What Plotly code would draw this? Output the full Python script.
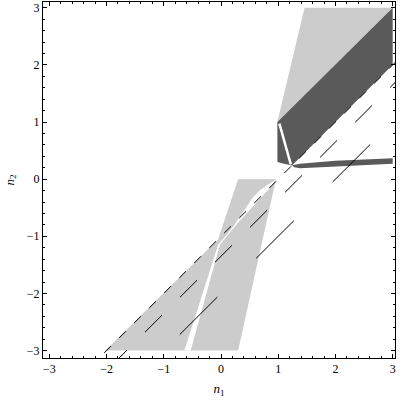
import plotly.graph_objects as go

# regions (n1, n2 vertices)
light_up_n1 = [0.985, 1.46, 3.0]
light_up_n2 = [1.0, 3.0, 3.0]

dark_n1 = [0.985, 3.0, 3.0, 1.24, 1.10, 0.985]
dark_n2 = [1.0, 3.0, 2.0, 0.24, 0.27, 0.30]

band_n1 = [1.24, 1.38, 2.0, 3.0, 3.0, 2.0, 1.38, 1.28]
band_n2 = [0.245, 0.27, 0.32, 0.365, 0.27, 0.225, 0.19, 0.21]

gap_up_n1 = [1.02, 1.06, 1.10, 1.15, 1.19, 1.22]
gap_up_n2 = [0.97, 0.83, 0.65, 0.48, 0.33, 0.26]

light_lo_n1 = [-2.02, -0.05, 0.30, 0.96, 0.30]
light_lo_n2 = [-3.0, -1.05, 0.0, 0.0, -3.0]

gap_lo_n1 = [0.96, 0.82, 0.67, 0.55, 0.45, 0.35, 0.22, 0.08, -0.05, -0.64,
             -0.53, -0.02, 0.12, 0.30, 0.50, 0.70, 0.85, 0.96]
gap_lo_n2 = [0.0, -0.09, -0.20, -0.33, -0.48, -0.64, -0.82, -1.0, -1.15, -3.0,
             -3.0, -1.15, -0.98, -0.76, -0.54, -0.33, -0.16, 0.0]

# dashed lines n2 = n1 - c
line_n1 = [[-2.04, 3.1], [-1.94, 3.1], [-0.72, 3.1]]
line_n2 = [[-3.04, 2.1], [-3.29, 1.75], [-2.72, 1.1]]
line_dash = ["9.5px,11.7px", "24px,25.5px", "53px,55px"]

fig = go.Figure()

def poly(x, y, color):
    fig.add_trace(go.Scatter(x=x, y=y, mode='lines', fill='toself', fillcolor=color,
                             line=dict(width=0, color=color), hoverinfo='skip', showlegend=False))

poly(light_up_n1, light_up_n2, '#cccccc')
poly(dark_n1, dark_n2, '#5a5a5a')
poly(band_n1, band_n2, '#5a5a5a')
fig.add_trace(go.Scatter(x=gap_up_n1, y=gap_up_n2, mode='lines', line=dict(color='white', width=2.5),
                         hoverinfo='skip', showlegend=False))
poly(light_lo_n1, light_lo_n2, '#cccccc')
poly(gap_lo_n1, gap_lo_n2, 'white')

for xs, ys, d in zip(line_n1, line_n2, line_dash):
    fig.add_trace(go.Scatter(x=xs, y=ys, mode='lines', line=dict(color='black', width=1, dash=d),
                             hoverinfo='skip', showlegend=False))

axis = dict(showgrid=False, zeroline=False, showline=True, linecolor='black', linewidth=1,
            mirror='ticks', ticks='inside', ticklen=4, tickcolor='black', dtick=1, tick0=0,
            automargin=False,
            minor=dict(ticks='inside', ticklen=2, dtick=0.2, tickcolor='black', showgrid=False),
            tickfont=dict(family='Liberation Serif', size=12, color='black'))

fig.update_xaxes(axis, range=[-3.11, 3.04],
                 title=dict(text='<i>n</i><sub>1</sub>', standoff=8,
                            font=dict(family='Liberation Serif', size=13, color='black')))
fig.update_yaxes(axis, range=[-3.13, 3.10],
                 title=dict(text='<i>n</i><sub>2</sub>', standoff=9,
                            font=dict(family='Liberation Serif', size=13, color='black')))

fig.update_layout(width=400, height=400, margin=dict(l=43, r=5, t=2, b=42),
                  plot_bgcolor='white', paper_bgcolor='white', showlegend=False)

# the page's default body margin would shift the figure by 8px
fig.write_html("out.html", config={'displayModeBar': False},
               post_script="document.body.style.margin='0';")
